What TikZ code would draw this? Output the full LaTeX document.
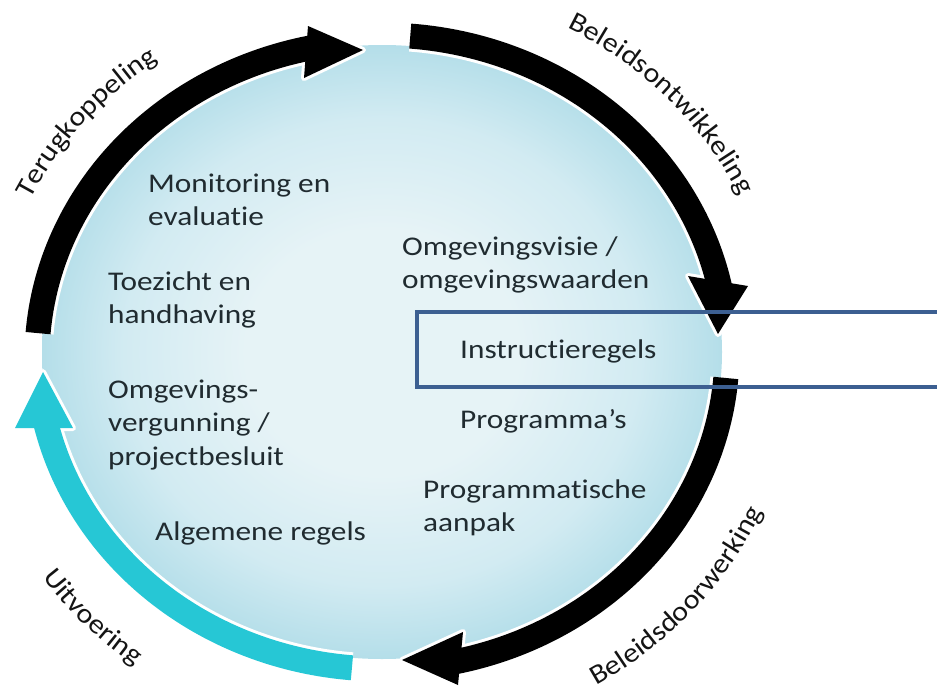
\documentclass[tikz,border=0pt]{standalone}
\usepackage{fontspec}
\setmainfont{Carlito}[FakeStretch=1.16, RawFeature=-liga]
\newfontfamily\lblfont{Carlito}[FakeStretch=1.1, RawFeature=-liga]
\usetikzlibrary{decorations.text}
\definecolor{dA}{RGB}{230,243,246}
\definecolor{dB}{RGB}{210,235,242}
\definecolor{dC}{RGB}{180,222,233}
\definecolor{txt}{RGB}{32,43,48}
\definecolor{lbl}{RGB}{20,20,20}
\definecolor{cyanarrow}{RGB}{38,199,213}
\definecolor{boxline}{RGB}{60,95,145}
\pgfdeclareradialshading{diskshade}{\pgfpoint{0bp}{0bp}}{color(0bp)=(dA); color(10bp)=(dA); color(19bp)=(dB); color(25bp)=(dC); color(50bp)=(dC)}
% ring arc: centre y, offset, from angle, to angle
\newcommand\earc[4]{plot[domain=0:1,samples=100] ({382+(345+#2)*cos(#3+(#4-(#3))*\x)},{#1-(317+#2)*sin(#3+(#4-(#3))*\x)})}
\newcommand\lns[1]{\begin{tabular}[t]{@{}l@{}}#1\end{tabular}}
\begin{document}
\begin{tikzpicture}[x=1pt,y=-1pt,
  body/.style={anchor=base west, inner sep=0pt, text=txt, font=\fontsize{27}{33.5}\selectfont},
  halo/.style={draw=white, line width=31pt},
  headhalo/.style={draw=white, fill=white, line width=6pt, line join=round},
  band/.style={line width=25pt},
  boxstyle/.style={draw=boxline, line width=4pt},
  lbltext/.style={decorate, decoration={text along path, text align=center, text={|\lblfont\fontsize{27.5}{30}\selectfont\color{lbl}|#1}}}
]
\useasboundingbox (0,0) rectangle (937,696);

% disk
\shade[shading=diskshade] (382,352) ellipse [x radius=340pt, y radius=307pt];

% arrow head coordinates
\coordinate (h1a) at (308,26);  \coordinate (h1b) at (304,78);  \coordinate (h1t) at (363,50);
\coordinate (h2a) at (688,276); \coordinate (h2b) at (748,286); \coordinate (h2t) at (718,334);
\coordinate (h3a) at (463,632); \coordinate (h3b) at (458,685); \coordinate (h3t) at (402,660);
\coordinate (h4a) at (15,428);  \coordinate (h4b) at (73,428);  \coordinate (h4t) at (43,372);

% halos
\draw[halo] \earc{358}{0}{175.5}{101.5};
\draw[halo] \earc{352}{0}{85.3}{11.5};
\draw[halo] \earc{352}{0}{-4.7}{-78};
\draw[halo] \earc{352}{0}{265}{192.5};
\path[headhalo] (h1a) -- (h1t) -- (h1b) -- cycle;
\path[headhalo] (h2a) -- (h2t) -- (h2b) -- cycle;
\path[headhalo] (h3a) -- (h3t) -- (h3b) -- cycle;
\path[headhalo] (h4a) -- (h4t) -- (h4b) -- cycle;

% arrows
\draw[band, black] \earc{358}{0}{175.5}{101.5};
\fill[black] (h1a) -- (h1t) -- (h1b) -- cycle;
\draw[band, black] \earc{352}{0}{85.3}{11.5};
\fill[black] (h2a) -- (h2t) -- (h2b) -- cycle;
\draw[band, black] \earc{352}{0}{-4.7}{-78};
\fill[black] (h3a) -- (h3t) -- (h3b) -- cycle;
\draw[band, cyanarrow] \earc{352}{0}{265}{192.5};
\fill[cyanarrow] (h4a) -- (h4t) -- (h4b) -- cycle;

% arc labels
\path[lbltext=Terugkoppeling] \earc{358}{46}{175}{105};
\path[lbltext=Beleidsontwikkeling] \earc{352}{50}{80}{6};
\path[lbltext=Beleidsdoorwerking] \earc{352}{72}{-79}{-3};
\path[lbltext=Uitvoering] \earc{352}{72}{189}{259};

% box round Instructieregels
\draw[boxstyle] (937,312) -- (417,312) -- (417,387) -- (937,387);

% texts
\node[body] (mon) at (148,192) {\lns{Monitoring en\\evaluatie}};
\node[body] (toe) at (108,290) {\lns{Toezicht en\\handhaving}};
\node[body] (omg) at (108,398) {\lns{Omgevings-\\vergunning /\\projectbesluit}};
\node[body] (alg) at (155,540) {Algemene regels};
\node[body] (vis) at (402,255) {\lns{Omgevingsvisie /\\omgevingswaarden}};
\node[body] (ins) at (460,358) {Instructieregels};
\node[body] (prg) at (460,428) {Programma’s};
\node[body] (pma) at (423,498) {\lns{Programmatische\\aanpak}};
\end{tikzpicture}
\end{document}
